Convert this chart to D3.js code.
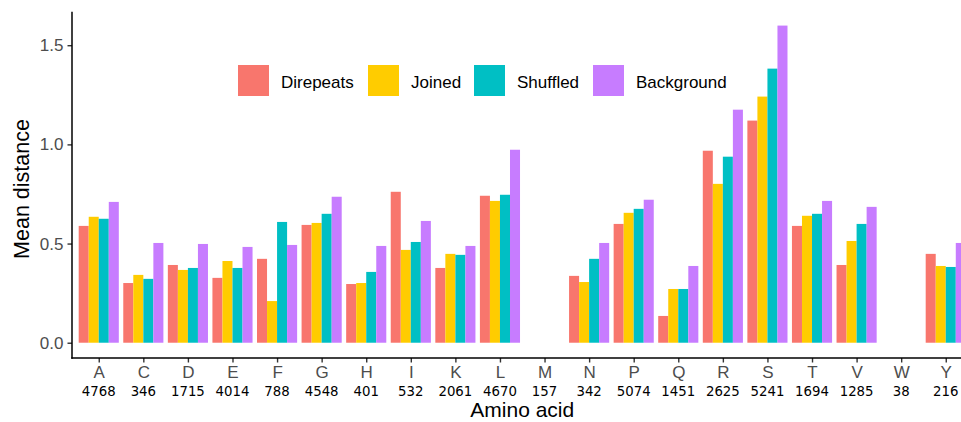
<!DOCTYPE html>
<html><head><meta charset="utf-8">
<script src="https://cdn.jsdelivr.net/npm/d3@7"></script>
<style>body{margin:0;background:#fff}svg{display:block}</style>
</head><body>
<svg id="chart" width="961" height="422"></svg>
<script>
const categories = ["A","C","D","E","F","G","H","I","K","L","M","N","P","Q","R","S","T","V","W","Y"];
const counts = ["4768","346","1715","4014","788","4548","401","532","2061","4670","157","342","5074","1451","2625","5241","1694","1285","38","216"];
const seriesNames = ["Direpeats","Joined","Shuffled","Background"];
const seriesColors = ["#F8766D","#FFCC00","#00BFC4","#C77CFF"];
const direpeats  = [0.589,0.301,0.392,0.327,0.423,0.594,0.296,0.761,0.377,0.741,null,0.337,0.599,0.135,0.968,1.120,0.589,0.392,null,0.448];
const joined     = [0.635,0.342,0.367,0.412,0.210,0.604,0.301,0.468,0.448,0.715,null,0.306,0.655,0.271,0.801,1.241,0.640,0.513,null,0.387];
const shuffled   = [0.625,0.322,0.377,0.377,0.609,0.650,0.357,0.508,0.443,0.746,null,0.423,0.675,0.271,0.938,1.382,0.650,0.599,null,0.382];
const background = [0.710,0.503,0.498,0.483,0.493,0.736,0.488,0.614,0.488,0.973,null,0.503,0.721,0.387,1.175,1.599,0.715,0.685,null,0.503];
const yTicks = [0, 0.5, 1.0, 1.5];
const yTickLabels = ["0.0","0.5","1.0","1.5"];

(function(){
const seriesData = [direpeats, joined, shuffled, background];
const svg = d3.select("#chart");
const pLeft = 72, pRight = 972.5, pTop = 11.7, pBottom = 358;

const x = d3.scalePoint().domain(categories).range([pLeft, pRight]).padding(0.6);
const step = x.step();
const groupW = step * 0.9;
const sub = d3.scaleBand().domain(seriesNames).range([-groupW/2, groupW/2]).padding(0);
const y = d3.scaleLinear().domain([-0.077, 1.669]).range([pBottom, pTop]);
const color = d3.scaleOrdinal().domain(seriesNames).range(seriesColors);

const bars = [];
categories.forEach((c, i) => {
  seriesNames.forEach((s, j) => {
    const v = seriesData[j][i];
    if (v != null) bars.push({c, s, v});
  });
});
svg.append("g").selectAll("rect").data(bars).join("rect")
  .attr("x", d => x(d.c) + sub(d.s))
  .attr("width", sub.bandwidth())
  .attr("y", d => y(d.v))
  .attr("height", d => y(0) - y(d.v))
  .attr("fill", d => color(d.s));

const yAxis = svg.append("g").attr("transform", `translate(${pLeft},0)`)
  .call(d3.axisLeft(y).tickValues(yTicks).tickFormat((d,i) => yTickLabels[i]).tickSize(4.5).tickPadding(4));
yAxis.select(".domain").remove();
yAxis.selectAll(".tick line").attr("stroke", "#333").attr("stroke-width", 1.4);
yAxis.selectAll(".tick text").attr("fill", "#4D4D4D").style("font-family", "'Liberation Sans', Arial, sans-serif").style("font-size", "17px");
svg.append("line").attr("x1", pLeft).attr("x2", pLeft).attr("y1", pTop).attr("y2", pBottom + 0.7)
  .attr("stroke", "#000").attr("stroke-width", 1.5);

const xAxis = svg.append("g").attr("transform", `translate(0,${pBottom})`)
  .call(d3.axisBottom(x).tickSize(4.5).tickPadding(3));
xAxis.select(".domain").remove();
xAxis.selectAll(".tick line").attr("stroke", "#333").attr("stroke-width", 1.4);
xAxis.selectAll(".tick text").attr("fill", "#4D4D4D").style("font-family", "'Liberation Sans', Arial, sans-serif").style("font-size", "17px");
svg.append("line").attr("x1", pLeft - 0.7).attr("x2", 961).attr("y1", pBottom).attr("y2", pBottom)
  .attr("stroke", "#000").attr("stroke-width", 1.5);

svg.append("g").selectAll("text").data(categories).join("text")
  .attr("x", d => x(d)).attr("y", 396.3)
  .attr("text-anchor", "middle")
  .style("font-family", "'DejaVu Sans', sans-serif").style("font-size", "13.3px").attr("fill", "#000")
  .text((d, i) => counts[i]);

svg.append("text").attr("x", (pLeft + pRight) / 2).attr("y", 416.5).attr("text-anchor", "middle")
  .style("font-family", "'Liberation Sans', Arial, sans-serif").style("font-size", "21px").text("Amino acid");
svg.append("text").attr("transform", "translate(29,189) rotate(-90)").attr("text-anchor", "middle")
  .style("font-family", "'Liberation Sans', Arial, sans-serif").style("font-size", "21.5px").text("Mean distance");

const legX = [238, 368, 474, 593];
const lg = svg.append("g").selectAll("g").data(seriesNames).join("g")
  .attr("transform", (d, i) => `translate(${legX[i]},65)`);
lg.append("rect").attr("width", 31).attr("height", 31).attr("fill", d => color(d));
lg.append("text").attr("x", 43).attr("y", 22.5)
  .style("font-family", "'Liberation Sans', Arial, sans-serif").style("font-size", "17px").attr("fill", "#000")
  .text(d => d);
})();
</script>
</body></html>
